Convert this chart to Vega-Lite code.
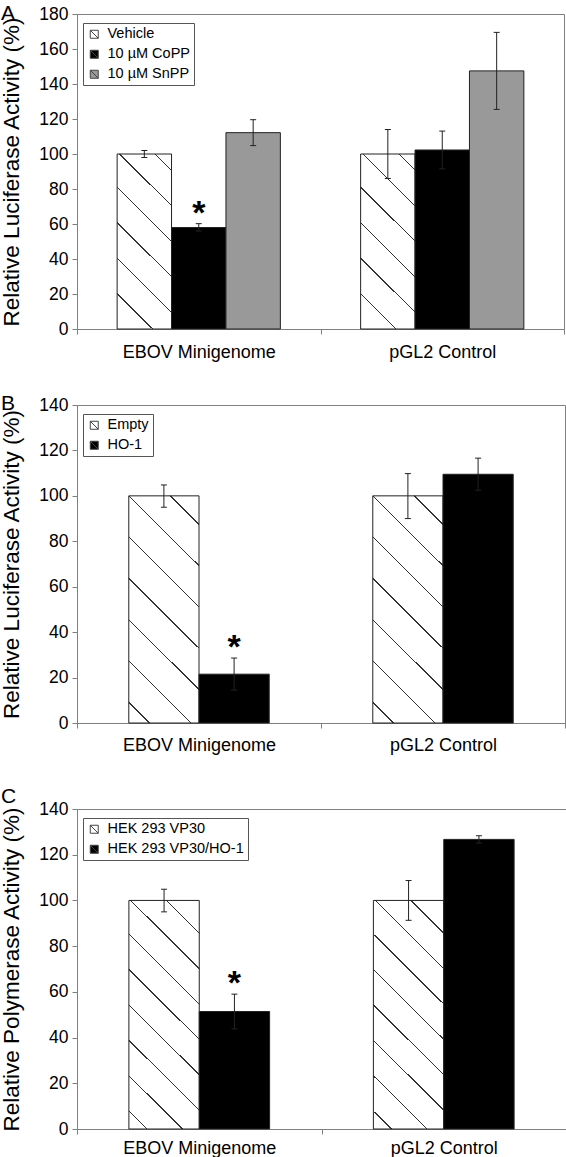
{
  "$schema": "https://vega.github.io/schema/vega-lite/v6.json",
  "padding": {"left": 0, "top": 2, "right": 0, "bottom": 0},
  "config": {
    "font": "Liberation Sans",
    "view": {"stroke": "#808080", "strokeWidth": 1},
    "axis": {"domainColor": "#808080", "tickColor": "#808080", "labelColor": "#000000", "titleColor": "#000000", "grid": false, "labelFontSize": 17.5, "titleFontWeight": "normal", "titleFontSize": 22.5, "tickSize": 5},
    "axisY": {"labelPadding": 4, "titlePadding": 15},
    "axisX": {"labelFontSize": 18, "labelPadding": 9, "labelAngle": 0, "tickBand": "extent"},
    "legend": {"title": null, "orient": "none", "legendX": 6, "legendY": 9, "direction": "vertical", "strokeColor": "#555555", "fillColor": "#ffffff", "padding": 4, "labelFontSize": 14.5, "labelColor": "#000000", "symbolType": "M-1,-1L1,-1L1,1L-1,1Z M-1,-1L1,1", "symbolSize": 64, "symbolStrokeWidth": 1, "symbolStrokeColor": "#444444", "rowPadding": 5, "labelOffset": 6},
    "title": {"anchor": "start", "frame": "group", "fontSize": 21, "fontWeight": "normal", "color": "#000000", "dx": -76}
  },
  "bounds": "flush",
  "spacing": 76,
  "resolve": {"scale": {"fill": "independent", "y": "independent", "xOffset": "independent"}, "legend": {"fill": "independent"}},
  "vconcat": [
    {
      "title": {"text": "A", "dy": 23},
      "width": 487,
      "height": 315,
      "data": {"values": [
        {"group": "EBOV Minigenome", "series": "Vehicle", "value": 100, "lo": 98, "hi": 102, "sig": ""},
        {"group": "EBOV Minigenome", "series": "10 µM CoPP", "value": 58, "lo": 56, "hi": 60.2, "sig": "*"},
        {"group": "EBOV Minigenome", "series": "10 µM SnPP", "value": 112.2, "lo": 104.8, "hi": 119.6, "sig": ""},
        {"group": "pGL2 Control", "series": "Vehicle", "value": 100, "lo": 86, "hi": 114, "sig": ""},
        {"group": "pGL2 Control", "series": "10 µM CoPP", "value": 102.3, "lo": 91.5, "hi": 113.1, "sig": ""},
        {"group": "pGL2 Control", "series": "10 µM SnPP", "value": 147.5, "lo": 125.5, "hi": 169.5, "sig": ""}
      ]},
      "encoding": {
        "x": {"field": "group", "type": "nominal", "sort": ["EBOV Minigenome", "pGL2 Control"], "scale": {"paddingInner": 0, "paddingOuter": 0}, "axis": {"title": null}},
        "xOffset": {"field": "series", "type": "nominal", "sort": ["Vehicle", "10 µM CoPP", "10 µM SnPP"], "scale": {"paddingInner": 0, "paddingOuter": 0.7375}}
      },
      "layer": [
        {
          "mark": {"type": "bar", "stroke": "#222222", "strokeWidth": 1},
          "encoding": {
            "y": {"field": "value", "type": "quantitative", "title": "Relative Luciferase Activity (%)", "scale": {"domain": [0, 180]}, "axis": {"values": [0, 20, 40, 60, 80, 100, 120, 140, 160, 180]}},
            "fill": {
              "field": "series", "type": "nominal",
              "scale": {"domain": ["Vehicle", "10 µM CoPP", "10 µM SnPP"], "range": ["#ffffff", "#000000", "#999999"]},
              "condition": {"test": "datum.series === 'Vehicle'", "value": {"gradient": "linear", "x1": 0, "y1": 1, "x2": 0.37086, "y2": -0.19521, "stops": [
                {"offset": 0, "color": "#ffffff"},
                {"offset": 0.15177, "color": "#ffffff"}, {"offset": 0.15177, "color": "#333333"}, {"offset": 0.15787, "color": "#333333"}, {"offset": 0.15787, "color": "#ffffff"},
                {"offset": 0.30659, "color": "#ffffff"}, {"offset": 0.30659, "color": "#333333"}, {"offset": 0.31269, "color": "#333333"}, {"offset": 0.31269, "color": "#ffffff"},
                {"offset": 0.46141, "color": "#ffffff"}, {"offset": 0.46141, "color": "#333333"}, {"offset": 0.46751, "color": "#333333"}, {"offset": 0.46751, "color": "#ffffff"},
                {"offset": 0.61623, "color": "#ffffff"}, {"offset": 0.61623, "color": "#333333"}, {"offset": 0.62233, "color": "#333333"}, {"offset": 0.62233, "color": "#ffffff"},
                {"offset": 0.77105, "color": "#ffffff"}, {"offset": 0.77105, "color": "#333333"}, {"offset": 0.77715, "color": "#333333"}, {"offset": 0.77715, "color": "#ffffff"},
                {"offset": 0.92587, "color": "#ffffff"}, {"offset": 0.92587, "color": "#333333"}, {"offset": 0.93197, "color": "#333333"}, {"offset": 0.93197, "color": "#ffffff"},
                {"offset": 1, "color": "#ffffff"}
              ]}}
            }
          }
        },
        {"mark": {"type": "rule", "color": "#222222", "strokeWidth": 1}, "encoding": {"y": {"field": "lo", "type": "quantitative", "title": "Relative Luciferase Activity (%)", "axis": {"values": [0, 20, 40, 60, 80, 100, 120, 140, 160, 180]}}, "y2": {"field": "hi"}}},
        {"mark": {"type": "tick", "color": "#222222", "size": 6, "thickness": 1, "opacity": 1}, "encoding": {"y": {"field": "lo", "type": "quantitative", "title": "Relative Luciferase Activity (%)", "axis": {"values": [0, 20, 40, 60, 80, 100, 120, 140, 160, 180]}}}},
        {"mark": {"type": "tick", "color": "#222222", "size": 6, "thickness": 1, "opacity": 1}, "encoding": {"y": {"field": "hi", "type": "quantitative", "title": "Relative Luciferase Activity (%)", "axis": {"values": [0, 20, 40, 60, 80, 100, 120, 140, 160, 180]}}}},
        {"mark": {"type": "text", "fontSize": 34, "fontWeight": "bold", "baseline": "alphabetic", "color": "#000000"}, "encoding": {"y": {"field": "hi", "type": "quantitative", "title": "Relative Luciferase Activity (%)", "axis": {"values": [0, 20, 40, 60, 80, 100, 120, 140, 160, 180]}}, "text": {"field": "sig"}}}
      ]
    },
    {
      "bounds": "flush",
      "spacing": 86,
      "resolve": {"scale": {"fill": "independent", "y": "independent", "xOffset": "independent"}, "legend": {"fill": "independent"}},
      "vconcat": [
        {
          "title": {"text": "B", "dy": 22},
          "width": 488,
          "height": 318,
          "data": {"values": [
            {"group": "EBOV Minigenome", "series": "Empty", "value": 100, "lo": 95, "hi": 104.8, "sig": ""},
            {"group": "EBOV Minigenome", "series": "HO-1", "value": 21.5, "lo": 14.5, "hi": 28.6, "sig": "*"},
            {"group": "pGL2 Control", "series": "Empty", "value": 100, "lo": 90, "hi": 109.8, "sig": ""},
            {"group": "pGL2 Control", "series": "HO-1", "value": 109.5, "lo": 102.5, "hi": 116.6, "sig": ""}
          ]},
          "encoding": {
            "x": {"field": "group", "type": "nominal", "sort": ["EBOV Minigenome", "pGL2 Control"], "scale": {"paddingInner": 0, "paddingOuter": 0}, "axis": {"title": null, "labelPadding": 8}},
            "xOffset": {"field": "series", "type": "nominal", "sort": ["Empty", "HO-1"], "scale": {"paddingInner": 0, "paddingOuter": 0.7375}}
          },
          "layer": [
            {
              "mark": {"type": "bar", "stroke": "#222222", "strokeWidth": 1},
              "encoding": {
                "y": {"field": "value", "type": "quantitative", "title": "Relative Luciferase Activity (%)", "scale": {"domain": [0, 140]}, "axis": {"values": [0, 20, 40, 60, 80, 100, 120, 140]}},
                "fill": {
                  "field": "series", "type": "nominal",
                  "scale": {"domain": ["Empty", "HO-1"], "range": ["#ffffff", "#000000"]},
                  "condition": {"test": "datum.series === 'Empty'", "value": {"gradient": "linear", "x1": 0, "y1": 1, "x2": 0.3678, "y2": -0.19464, "stops": [
                    {"offset": 0, "color": "#ffffff"},
                    {"offset": 0.06744, "color": "#ffffff"}, {"offset": 0.06744, "color": "#333333"}, {"offset": 0.07216, "color": "#333333"}, {"offset": 0.07216, "color": "#ffffff"},
                    {"offset": 0.20647, "color": "#ffffff"}, {"offset": 0.20647, "color": "#333333"}, {"offset": 0.21119, "color": "#333333"}, {"offset": 0.21119, "color": "#ffffff"},
                    {"offset": 0.3455, "color": "#ffffff"}, {"offset": 0.3455, "color": "#333333"}, {"offset": 0.35022, "color": "#333333"}, {"offset": 0.35022, "color": "#ffffff"},
                    {"offset": 0.48453, "color": "#ffffff"}, {"offset": 0.48453, "color": "#333333"}, {"offset": 0.48925, "color": "#333333"}, {"offset": 0.48925, "color": "#ffffff"},
                    {"offset": 0.62356, "color": "#ffffff"}, {"offset": 0.62356, "color": "#333333"}, {"offset": 0.62828, "color": "#333333"}, {"offset": 0.62828, "color": "#ffffff"},
                    {"offset": 0.76259, "color": "#ffffff"}, {"offset": 0.76259, "color": "#333333"}, {"offset": 0.76731, "color": "#333333"}, {"offset": 0.76731, "color": "#ffffff"},
                    {"offset": 0.90162, "color": "#ffffff"}, {"offset": 0.90162, "color": "#333333"}, {"offset": 0.90634, "color": "#333333"}, {"offset": 0.90634, "color": "#ffffff"},
                    {"offset": 1, "color": "#ffffff"}
                  ]}}
                }
              }
            },
            {"mark": {"type": "rule", "color": "#222222", "strokeWidth": 1}, "encoding": {"y": {"field": "lo", "type": "quantitative", "title": "Relative Luciferase Activity (%)", "axis": {"values": [0, 20, 40, 60, 80, 100, 120, 140]}}, "y2": {"field": "hi"}}},
            {"mark": {"type": "tick", "color": "#222222", "size": 6, "thickness": 1, "opacity": 1}, "encoding": {"y": {"field": "lo", "type": "quantitative", "title": "Relative Luciferase Activity (%)", "axis": {"values": [0, 20, 40, 60, 80, 100, 120, 140]}}}},
            {"mark": {"type": "tick", "color": "#222222", "size": 6, "thickness": 1, "opacity": 1}, "encoding": {"y": {"field": "hi", "type": "quantitative", "title": "Relative Luciferase Activity (%)", "axis": {"values": [0, 20, 40, 60, 80, 100, 120, 140]}}}},
            {"mark": {"type": "text", "fontSize": 34, "fontWeight": "bold", "baseline": "alphabetic", "color": "#000000"}, "encoding": {"y": {"field": "hi", "type": "quantitative", "title": "Relative Luciferase Activity (%)", "axis": {"values": [0, 20, 40, 60, 80, 100, 120, 140]}}, "text": {"field": "sig"}}}
          ]
        },
        {
          "title": {"text": "C", "dy": 11},
          "width": 489,
          "height": 320,
          "data": {"values": [
            {"group": "EBOV Minigenome", "series": "HEK 293 VP30", "value": 100, "lo": 95, "hi": 104.9, "sig": ""},
            {"group": "EBOV Minigenome", "series": "HEK 293 VP30/HO-1", "value": 51.4, "lo": 43.8, "hi": 59, "sig": "*"},
            {"group": "pGL2 Control", "series": "HEK 293 VP30", "value": 100, "lo": 91.3, "hi": 108.7, "sig": ""},
            {"group": "pGL2 Control", "series": "HEK 293 VP30/HO-1", "value": 126.7, "lo": 125.1, "hi": 128.3, "sig": ""}
          ]},
          "encoding": {
            "x": {"field": "group", "type": "nominal", "sort": ["EBOV Minigenome", "pGL2 Control"], "scale": {"paddingInner": 0, "paddingOuter": 0}, "axis": {"title": null, "labelPadding": 5}},
            "xOffset": {"field": "series", "type": "nominal", "sort": ["HEK 293 VP30", "HEK 293 VP30/HO-1"], "scale": {"paddingInner": 0, "paddingOuter": 0.7375}}
          },
          "layer": [
            {
              "mark": {"type": "bar", "stroke": "#222222", "strokeWidth": 1},
              "encoding": {
                "y": {"field": "value", "type": "quantitative", "title": "Relative Polymerase Activity (%)", "scale": {"domain": [0, 140]}, "axis": {"values": [0, 20, 40, 60, 80, 100, 120, 140]}},
                "fill": {
                  "field": "series", "type": "nominal",
                  "scale": {"domain": ["HEK 293 VP30", "HEK 293 VP30/HO-1"], "range": ["#ffffff", "#000000"]},
                  "condition": {"test": "datum.series === 'HEK 293 VP30'", "value": {"gradient": "linear", "x1": 0, "y1": 1, "x2": 0.36535, "y2": -0.19417, "stops": [
                    {"offset": 0, "color": "#ffffff"},
                    {"offset": 0.05763, "color": "#ffffff"}, {"offset": 0.05763, "color": "#333333"}, {"offset": 0.06232, "color": "#333333"}, {"offset": 0.06232, "color": "#ffffff"},
                    {"offset": 0.17622, "color": "#ffffff"}, {"offset": 0.17622, "color": "#333333"}, {"offset": 0.18091, "color": "#333333"}, {"offset": 0.18091, "color": "#ffffff"},
                    {"offset": 0.29481, "color": "#ffffff"}, {"offset": 0.29481, "color": "#333333"}, {"offset": 0.2995, "color": "#333333"}, {"offset": 0.2995, "color": "#ffffff"},
                    {"offset": 0.4134, "color": "#ffffff"}, {"offset": 0.4134, "color": "#333333"}, {"offset": 0.41809, "color": "#333333"}, {"offset": 0.41809, "color": "#ffffff"},
                    {"offset": 0.53199, "color": "#ffffff"}, {"offset": 0.53199, "color": "#333333"}, {"offset": 0.53668, "color": "#333333"}, {"offset": 0.53668, "color": "#ffffff"},
                    {"offset": 0.65058, "color": "#ffffff"}, {"offset": 0.65058, "color": "#333333"}, {"offset": 0.65527, "color": "#333333"}, {"offset": 0.65527, "color": "#ffffff"},
                    {"offset": 0.76917, "color": "#ffffff"}, {"offset": 0.76917, "color": "#333333"}, {"offset": 0.77386, "color": "#333333"}, {"offset": 0.77386, "color": "#ffffff"},
                    {"offset": 0.88776, "color": "#ffffff"}, {"offset": 0.88776, "color": "#333333"}, {"offset": 0.89245, "color": "#333333"}, {"offset": 0.89245, "color": "#ffffff"},
                    {"offset": 1, "color": "#ffffff"}
                  ]}}
                }
              }
            },
            {"mark": {"type": "rule", "color": "#222222", "strokeWidth": 1}, "encoding": {"y": {"field": "lo", "type": "quantitative", "title": "Relative Polymerase Activity (%)", "axis": {"values": [0, 20, 40, 60, 80, 100, 120, 140]}}, "y2": {"field": "hi"}}},
            {"mark": {"type": "tick", "color": "#222222", "size": 6, "thickness": 1, "opacity": 1}, "encoding": {"y": {"field": "lo", "type": "quantitative", "title": "Relative Polymerase Activity (%)", "axis": {"values": [0, 20, 40, 60, 80, 100, 120, 140]}}}},
            {"mark": {"type": "tick", "color": "#222222", "size": 6, "thickness": 1, "opacity": 1}, "encoding": {"y": {"field": "hi", "type": "quantitative", "title": "Relative Polymerase Activity (%)", "axis": {"values": [0, 20, 40, 60, 80, 100, 120, 140]}}}},
            {"mark": {"type": "text", "fontSize": 34, "fontWeight": "bold", "baseline": "alphabetic", "color": "#000000"}, "encoding": {"y": {"field": "hi", "type": "quantitative", "title": "Relative Polymerase Activity (%)", "axis": {"values": [0, 20, 40, 60, 80, 100, 120, 140]}}, "text": {"field": "sig"}}}
          ]
        }
      ]
    }
  ]
}
